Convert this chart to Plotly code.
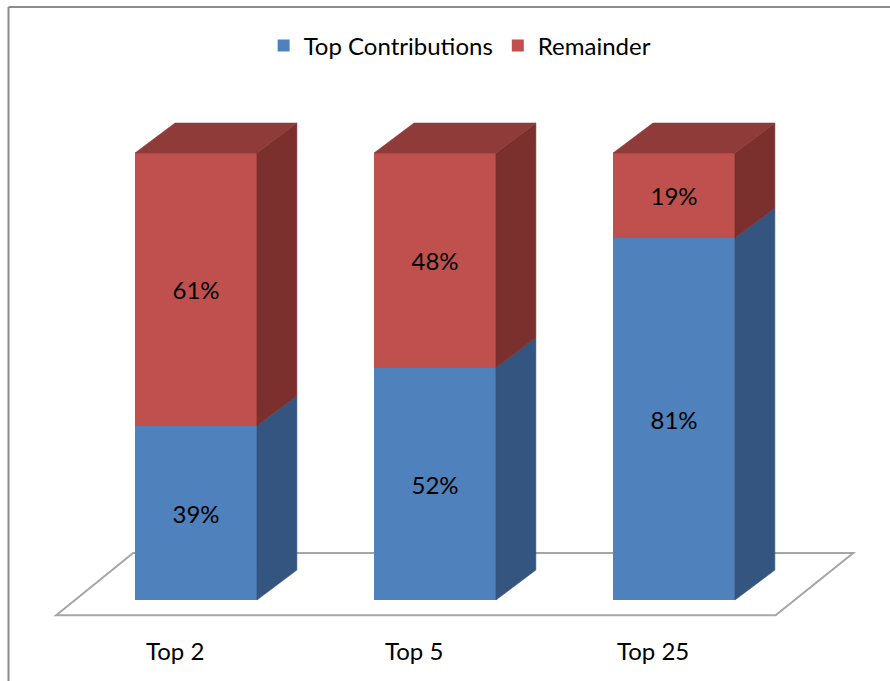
import plotly.graph_objects as go

# Share of total held by the top N contributors
categories = ["Top 2", "Top 5", "Top 25"]
top_contrib = [39, 52, 81]
remainder = [61, 48, 19]
series_names = ["Top Contributions", "Remainder"]

FONT = "Lato, 'Open Sans', sans-serif"
FS = 24
BLUE_FRONT, BLUE_SIDE = "#4F81BD", "#34557F"
RED_FRONT, RED_SIDE, RED_TOP = "#C0504D", "#7B302E", "#8F3B39"

xpos = list(range(len(categories)))
bar_w = 0.51
hw = bar_w / 2
# oblique depth of the pseudo-3D columns (data units)
dx, dy = 0.167, 6.7

fig = go.Figure()

fig.add_trace(go.Bar(
    x=xpos, y=top_contrib, width=bar_w, name=series_names[0],
    marker=dict(color=BLUE_FRONT, line=dict(width=0)),
    text=[f"{v}%" for v in top_contrib], textposition="inside",
    insidetextanchor="middle", textangle=0,
    textfont=dict(family=FONT, size=FS, color="#000000"),
))
fig.add_trace(go.Bar(
    x=xpos, y=remainder, width=bar_w, name=series_names[1],
    marker=dict(color=RED_FRONT, line=dict(width=0)),
    text=[f"{v}%" for v in remainder], textposition="inside",
    insidetextanchor="middle", textangle=0,
    textfont=dict(family=FONT, size=FS, color="#000000"),
))


def face(xs, ys, color):
    fig.add_trace(go.Scatter(
        x=xs + [xs[0]], y=ys + [ys[0]], mode="lines", fill="toself",
        fillcolor=color, line=dict(color=color, width=0.6),
        hoverinfo="skip", showlegend=False,
    ))


for xi, b, r in zip(xpos, top_contrib, remainder):
    xr = xi + hw
    total = b + r
    # right-hand side faces
    face([xr, xr + dx, xr + dx, xr], [0, dy, b + dy, b], BLUE_SIDE)
    face([xr, xr + dx, xr + dx, xr], [b, b + dy, total + dy, total], RED_SIDE)
    # top face
    face([xi - hw, xi - hw + dx, xr + dx, xr],
         [total, total + dy, total + dy, total], RED_TOP)

# floor plane under the columns
fl_front, fl_back = -3.4, 10.5
fx0 = xpos[0] - hw - 0.33
fx1 = xpos[-1] + hw + 0.17
floor_path = (f"M {fx0},{fl_front} L {fx1},{fl_front} "
              f"L {fx1 + 0.325},{fl_back} L {fx0 + 0.322},{fl_back} Z")
shapes = [
    dict(type="path", path=floor_path, xref="x", yref="y", layer="below",
         fillcolor="#FFFFFF", line=dict(color="#A6A6A6", width=2)),
    # chart frame
    dict(type="line", xref="paper", yref="paper", x0=8.5 / 890, x1=8.5 / 890,
         y0=0, y1=1 - 7 / 681, line=dict(color="#8C8C8C", width=2)),
    dict(type="line", xref="paper", yref="paper", x0=8.5 / 890, x1=1.0,
         y0=1 - 7 / 681, y1=1 - 7 / 681, line=dict(color="#8C8C8C", width=2)),
]

annotations = [
    dict(x=xi - 0.088, y=-11.2, xref="x", yref="y", text=c, showarrow=False,
         font=dict(family=FONT, size=FS, color="#000000"))
    for xi, c in zip(xpos, categories)
]

fig.update_layout(
    width=890, height=681,
    margin=dict(l=0, r=0, t=0, b=0),
    paper_bgcolor="#FFFFFF", plot_bgcolor="#FFFFFF",
    barmode="stack", bargap=0,
    xaxis=dict(range=[-0.8201, 2.9038], visible=False, fixedrange=True),
    yaxis=dict(range=[-18.12, 134.23], visible=False, fixedrange=True),
    showlegend=True,
    legend=dict(orientation="h", traceorder="normal", x=0.517, xanchor="center",
                y=1 - 46 / 681, yanchor="middle",
                font=dict(family=FONT, size=FS, color="#000000"),
                bgcolor="rgba(0,0,0,0)", itemwidth=30),
    shapes=shapes,
    annotations=annotations,
    font=dict(family=FONT),
)

fig.write_html("out.html")
